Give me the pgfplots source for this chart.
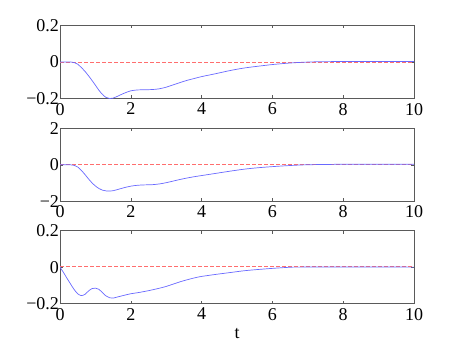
\documentclass[border=0pt]{standalone}
\usepackage{fontspec}
\setmainfont{Liberation Serif}
\usepackage{pgfplots}
\pgfplotsset{compat=1.18}
\definecolor{lblue}{RGB}{105,105,255}
\definecolor{lred}{RGB}{255,110,110}
\definecolor{axgray}{RGB}{90,90,90}

\pgfplotsset{
  panel/.style={
    scale only axis,
    width=354pt, height=73pt,
    anchor=south west,
    xmin=0, xmax=10,
    xtick={0,2,4,6,8,10},
    xticklabels={0,2,4,6,8,10},
    tick align=inside,
    major tick length=3pt,
    axis line style={axgray, line width=0.7pt},
    every tick/.style={axgray, line width=0.5pt},
    tick label style={font=\fontsize{18}{20}\selectfont},
    xticklabel style={yshift=-1pt},
    yticklabel style={xshift=2.5pt},
    clip=true,
  },
  blueline/.style={color=lblue, line width=0.7pt, no marks},
  redline/.style={color=lred, line width=0.9pt, dash pattern=on 3.5pt off 2.5pt, no marks},
}

\begin{document}
\begin{tikzpicture}
\useasboundingbox (0,0) rectangle (457pt,343pt);

% top panel
\begin{axis}[panel, at={(60pt,244.5pt)},
  ymin=-0.2, ymax=0.2, ytick={-0.2,0,0.2}, yticklabels={−0.2,0,0.2}]
\addplot[redline] coordinates {(0,0) (10,0)};
\addplot[blueline, smooth] coordinates {
(0,0)(0.3,0)(0.4,-0.003)(0.5,-0.012)(0.6,-0.03)(0.7,-0.05)(0.8,-0.074)(0.9,-0.1)
(1.0,-0.127)(1.1,-0.155)(1.2,-0.178)(1.3,-0.194)(1.4,-0.2)(1.5,-0.198)(1.6,-0.19)
(1.8,-0.172)(2.0,-0.158)(2.2,-0.153)(2.4,-0.152)(2.6,-0.151)(2.8,-0.147)(3.0,-0.138)
(3.2,-0.125)(3.4,-0.112)(3.6,-0.1)(3.8,-0.09)(4.0,-0.08)(4.4,-0.064)(4.8,-0.047)
(5.2,-0.033)(5.6,-0.023)(6.0,-0.014)(6.4,-0.007)(6.8,-0.002)(7.2,0.001)(7.6,0.002)
(8,0.003)(9,0.003)(10,0.003)};
\end{axis}

% middle panel
\begin{axis}[panel, at={(60pt,141.7pt)},
  ymin=-2, ymax=2, ytick={-2,0,2}, yticklabels={−2,0,2}]
\addplot[redline] coordinates {(0,0) (10,0)};
\addplot[blueline, smooth] coordinates {
(0,0)(0.3,0)(0.4,-0.03)(0.5,-0.12)(0.6,-0.3)(0.7,-0.52)(0.8,-0.76)(0.9,-0.98)
(1.0,-1.16)(1.1,-1.3)(1.2,-1.39)(1.3,-1.43)(1.4,-1.44)(1.5,-1.42)(1.6,-1.37)
(1.8,-1.26)(2.0,-1.17)(2.2,-1.12)(2.4,-1.1)(2.6,-1.09)(2.8,-1.05)(3.0,-0.98)
(3.2,-0.89)(3.4,-0.8)(3.6,-0.72)(3.8,-0.65)(4.0,-0.59)(4.4,-0.47)(4.8,-0.35)
(5.2,-0.24)(5.6,-0.16)(6.0,-0.1)(6.4,-0.05)(6.8,-0.01)(7.2,0.01)(7.6,0.02)
(8,0.03)(9,0.03)(10,0.03)};
\end{axis}

% bottom panel
\begin{axis}[panel, at={(60pt,39.4pt)},
  ymin=-0.2, ymax=0.2, ytick={-0.2,0,0.2}, yticklabels={−0.2,0,0.2},
  xlabel={t},
  xlabel style={font=\fontsize{18}{20}\selectfont,
    at={(axis description cs:0.5,0)}, anchor=base, yshift=-35pt}]
\addplot[redline, line width=1pt] coordinates {(0,0.001) (10,0.001)};
\addplot[blueline, smooth] coordinates {
(0,0)(0.1,-0.03)(0.2,-0.062)(0.3,-0.093)(0.4,-0.123)(0.5,-0.146)(0.6,-0.156)
(0.7,-0.15)(0.8,-0.132)(0.9,-0.118)(1.0,-0.115)(1.1,-0.122)(1.2,-0.14)(1.3,-0.158)
(1.4,-0.168)(1.5,-0.17)(1.6,-0.165)(1.8,-0.155)(2.0,-0.146)(2.2,-0.14)(2.4,-0.133)
(2.6,-0.125)(2.8,-0.116)(3.0,-0.106)(3.2,-0.093)(3.4,-0.08)(3.6,-0.069)(3.8,-0.059)
(4.0,-0.051)(4.4,-0.04)(4.8,-0.03)(5.2,-0.02)(5.6,-0.013)(6.0,-0.007)(6.4,-0.002)
(6.8,0)(10,0)};
\end{axis}
\end{tikzpicture}
\end{document}
